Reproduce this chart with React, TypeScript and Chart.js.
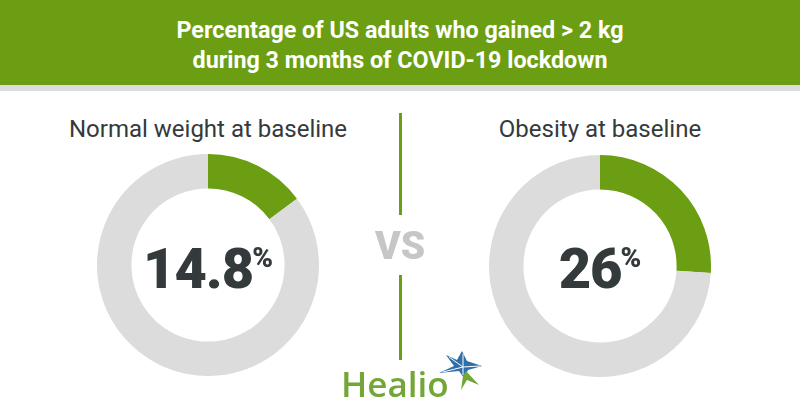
import React, { useEffect, useRef } from "react";
import { Chart, registerables } from "chart.js";

Chart.register(...registerables);

const title = ["Percentage of US adults who gained > 2 kg", "during 3 months of COVID-19 lockdown"];
const groups = ["Normal weight at baseline", "Obesity at baseline"];
const gainedPct = [14.8, 26];
const valueLabels = ["14.8", "26"];

const GREEN = "#6b9e12";
const RING = "#dcdcdc";
const DARK = "#343a3c";

function Donut({ value, left, top, size }: { value: number; left: number; top: number; size: number }) {
  const ref = useRef<HTMLCanvasElement>(null);
  useEffect(() => {
    const chart = new Chart(ref.current!, {
      type: "doughnut",
      data: {
        labels: ["Gained > 2 kg", "Other"],
        datasets: [
          {
            data: [value, 100 - value],
            backgroundColor: [GREEN, RING],
            borderWidth: 0,
            hoverOffset: 0,
          },
        ],
      },
      options: {
        responsive: false,
        maintainAspectRatio: false,
        animation: false,
        cutout: "69%",
        events: [],
        layout: { padding: 0 },
        plugins: { legend: { display: false }, tooltip: { enabled: false } },
      },
    });
    return () => chart.destroy();
  }, [value]);
  return (
    <canvas
      ref={ref}
      width={size}
      height={size}
      style={{ position: "absolute", left, top, width: size, height: size }}
    />
  );
}

export default function App() {
  const centers = [208, 600];
  const size = 222;
  const titleWidths = [447, 415];
  const titleBaselines = [38, 67.5];
  return (
    <div
      style={{
        position: "absolute",
        left: 0,
        top: 0,
        width: 800,
        height: 420,
        background: "#ffffff",
        overflow: "hidden",
        fontFamily: "Roboto, sans-serif",
      }}
    >
      <div style={{ position: "absolute", left: 0, top: 0, width: 800, height: 85, background: GREEN }} />
      <div style={{ position: "absolute", left: 0, top: 85, width: 800, height: 6, background: "#dddddd" }} />
      <svg style={{ position: "absolute", left: 0, top: 0 }} width={800} height={85}>
        {title.map((t, i) => (
          <text
            key={i}
            x={400}
            y={titleBaselines[i]}
            textAnchor="middle"
            textLength={titleWidths[i]}
            lengthAdjust="spacingAndGlyphs"
            fill="#ffffff"
            fontFamily="Roboto, sans-serif"
            fontWeight={700}
            fontSize={23}
          >
            {t}
          </text>
        ))}
      </svg>
      {groups.map((g, i) => (
        <div
          key={g}
          style={{
            position: "absolute",
            left: centers[i] - 200,
            width: 400,
            top: 117,
            lineHeight: "24px",
            textAlign: "center",
            color: DARK,
            fontSize: 24,
            whiteSpace: "nowrap",
          }}
        >
          {g}
        </div>
      ))}
      {gainedPct.map((v, i) => (
        <Donut key={i} value={v} left={centers[i] - size / 2} top={(i === 0 ? 265 : 266) - size / 2} size={size} />
      ))}
      {valueLabels.map((v, i) => (
        <div
          key={v}
          style={{
            position: "absolute",
            left: centers[i] - 150,
            width: 300,
            top: 241,
            display: "flex",
            justifyContent: "center",
            alignItems: "flex-start",
            color: DARK,
            fontWeight: 900,
          }}
        >
          <span style={{ fontSize: 56, lineHeight: "56px", letterSpacing: -1 }}>{v}</span>
          <span style={{ fontSize: 28, lineHeight: "28px", marginTop: 3, marginLeft: -1 }}>%</span>
        </div>
      ))}
      <div style={{ position: "absolute", left: 399, top: 113, width: 3, height: 102, background: GREEN }} />
      <div style={{ position: "absolute", left: 399, top: 275, width: 3, height: 85, background: GREEN }} />
      <div
        style={{
          position: "absolute",
          left: 300,
          width: 200,
          top: 227,
          lineHeight: "39px",
          textAlign: "center",
          color: "#c6c6c6",
          fontWeight: 900,
          fontSize: 39,
        }}
      >
        VS
      </div>
      <div
        style={{
          position: "absolute",
          left: 341,
          top: 366,
          lineHeight: "35px",
          fontFamily: "'Open Sans', sans-serif",
          fontWeight: 600,
          fontSize: 35,
          color: "#72a637",
        }}
      >
        Healio
      </div>
      <svg style={{ position: "absolute", left: 430, top: 345 }} width={60} height={55} viewBox="430 345 60 55">
        <polygon
          points="446,355 457,360 462,351 467,361 482,366 468,370 464,378 459,371 439,373 454,366"
          fill="#2e6fa8"
        />
        <polygon points="466,371 479,385 467,380 461,390 463,376" fill="#72a637" />
        <path d="M449,357 L463,367 M463,354 L463,375 M443,372 L463,367 L480,366" stroke="#ffffff" strokeWidth={1} fill="none" />
      </svg>
    </div>
  );
}
